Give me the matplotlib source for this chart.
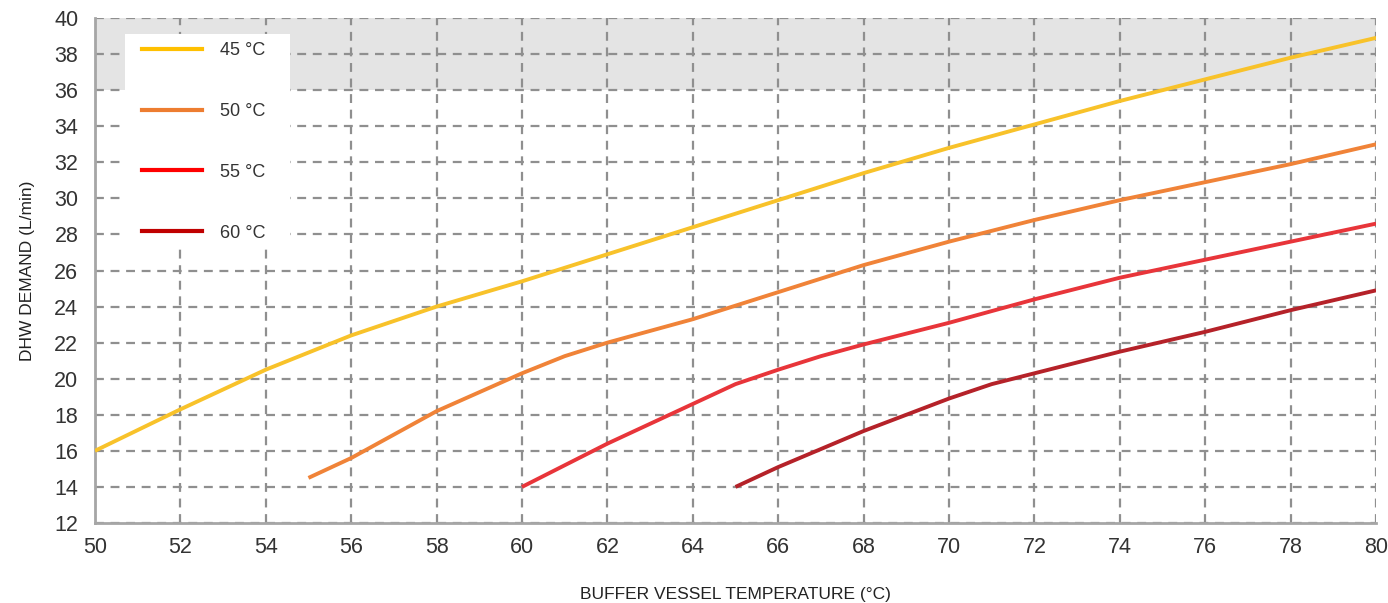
import matplotlib
matplotlib.use("Agg")
import matplotlib.pyplot as plt
from matplotlib.lines import Line2D
from matplotlib.patches import Rectangle

plt.rcParams['font.family'] = ['Liberation Sans', 'DejaVu Sans']

# datos
x_45 = [50, 52, 54, 56, 58, 60, 62, 64, 66, 68, 70, 72, 74, 76, 78, 80]
y_45 = [16.0, 18.3, 20.5, 22.4, 24.0, 25.4, 26.9, 28.4, 29.9, 31.4, 32.8, 34.1, 35.4, 36.6, 37.8, 38.9]
x_50 = [55, 56, 58, 60, 61, 62, 64, 66, 68, 70, 72, 74, 76, 78, 80]
y_50 = [14.5, 15.6, 18.2, 20.3, 21.25, 22.0, 23.3, 24.8, 26.3, 27.6, 28.8, 29.9, 30.9, 31.9, 33.0]
x_55 = [60, 62, 64, 65, 66, 67, 68, 70, 72, 74, 76, 78, 80]
y_55 = [14.0, 16.4, 18.6, 19.7, 20.5, 21.25, 21.9, 23.1, 24.4, 25.6, 26.6, 27.6, 28.6]
x_60 = [65, 66, 68, 70, 71, 72, 74, 76, 78, 80]
y_60 = [14.0, 15.1, 17.1, 18.9, 19.7, 20.3, 21.5, 22.6, 23.8, 24.9]

etiquetas = ['45 °C', '50 °C', '55 °C', '60 °C']
cores_linha = ['#F8C22A', '#F08338', '#E8353A', '#B52229']
cores_legenda = ['#FFC000', '#ED7D31', '#FF0000', '#C00000']

fig = plt.figure(figsize=(13.88, 6.03), dpi=100)
ax = fig.add_axes([0.0684, 0.1327, 0.9230, 0.8374])

ax.axhspan(36, 40, color='#E4E4E4', zorder=0, lw=0)

series = [(x_45, y_45), (x_50, y_50), (x_55, y_55), (x_60, y_60)]
for (xs, ys), c in zip(series, cores_linha):
    ax.plot(xs, ys, color=c, lw=2.8, zorder=3, solid_capstyle='butt', solid_joinstyle='round')

ax.set_xlim(50, 80)
ax.set_ylim(12, 40)
ax.set_xticks(range(50, 81, 2))
ax.set_yticks(range(12, 41, 2))
ax.grid(True, color='#8F8F8F', linestyle=(0, (4, 3)), lw=1.6, zorder=1)
ax.set_axisbelow(True)

for s in ['top', 'right']:
    ax.spines[s].set_visible(False)
for s in ['left', 'bottom']:
    ax.spines[s].set_color('#A6A6A6')
    ax.spines[s].set_linewidth(2)
ax.tick_params(length=0, labelsize=15.5, colors='#333333', pad=10)
ax.tick_params(axis='y', pad=12)

ax.set_xlabel('BUFFER VESSEL TEMPERATURE (°C)', fontsize=12.5, color='#222222', labelpad=21)
ax.set_ylabel('DHW DEMAND (L/min)', fontsize=12.5, color='#222222', labelpad=14)

# fundo branco da legenda
ax.add_patch(Rectangle((0.0234, 0.5505), 0.1288, 0.4178, transform=ax.transAxes,
                       facecolor='white', edgecolor='none', zorder=4))

handles = [Line2D([0], [0], color=c, lw=3) for c in cores_legenda]
leg = ax.legend(handles, etiquetas, loc='upper left', bbox_to_anchor=(0.0367, 0.9524),
                fontsize=13, labelspacing=2.43, handlelength=3.3, handletextpad=1.0,
                borderpad=0, borderaxespad=0, frameon=False)
leg.set_zorder(5)
for t in leg.get_texts():
    t.set_color('#333333')

fig.savefig('out.png', dpi=100)
